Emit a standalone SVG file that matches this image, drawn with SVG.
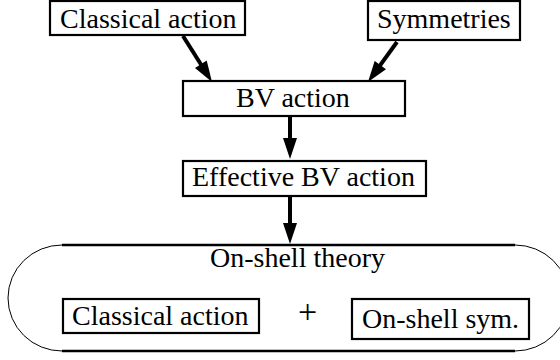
<svg xmlns="http://www.w3.org/2000/svg" width="560" height="360" viewBox="0 0 560 360">
<style>
.box{fill:#fff;stroke:#000;stroke-width:2.2}
.edge{stroke:#000;stroke-width:4;fill:none;marker-end:url(#ah)}
.rule{stroke:#000;stroke-width:2.6;fill:none}
.arc{stroke:#000;stroke-width:1;fill:none}
</style>
<defs>
<marker id="ah" markerUnits="userSpaceOnUse" markerWidth="22" markerHeight="14" viewBox="0 0 21 14" refX="6" refY="7" orient="auto">
<path d="M0,0 L21,7 L0,14 z" fill="#000"/>
</marker>
</defs>
<rect width="560" height="360" fill="#fff"/>
<g id="connectors">
<line class="edge" x1="183" y1="36" x2="204" y2="69.3"/>
<line class="edge" x1="397" y1="42" x2="376.8" y2="69.9"/>
<line class="edge" x1="290" y1="116" x2="290" y2="144"/>
<line class="edge" x1="290" y1="196" x2="290" y2="229"/>
</g>
<g id="classical-action">
<rect class="box" x="50" y="1" width="195" height="34"/>
<text x="60" y="28" font-family="Liberation Serif" font-size="28">Classical action</text>
</g>
<g id="symmetries">
<rect class="box" x="368" y="1" width="152" height="39"/>
<text x="377" y="28" font-family="Liberation Serif" font-size="28">Symmetries</text>
</g>
<g id="bv-action">
<rect class="box" x="183" y="81" width="222" height="35"/>
<text x="236" y="107" font-family="Liberation Serif" font-size="28">BV action</text>
</g>
<g id="effective-bv-action">
<rect class="box" x="183" y="161" width="243" height="35"/>
<text x="192" y="186" font-family="Liberation Serif" font-size="28">Effective BV action</text>
</g>
<g id="on-shell-theory">
<line class="rule" x1="62" y1="245" x2="515" y2="245"/>
<line class="rule" x1="62" y1="351" x2="515" y2="351"/>
<path class="arc" d="M62,245 A54,53 0 0 0 62,351"/>
<path class="arc" d="M515,245 A54,53 0 0 1 515,351"/>
<text x="210" y="267" font-family="Liberation Serif" font-size="28">On-shell theory</text>
</g>
<g id="classical-action-2">
<rect class="box" x="63" y="299" width="196" height="34"/>
<text x="72" y="325" font-family="Liberation Serif" font-size="28">Classical action</text>
</g>
<g id="plus">
<text x="298" y="323" font-family="Liberation Serif" font-size="34">+</text>
</g>
<g id="on-shell-sym">
<rect class="box" x="352" y="299" width="177" height="40"/>
<text x="362" y="328" font-family="Liberation Serif" font-size="28">On-shell sym.</text>
</g>
</svg>
